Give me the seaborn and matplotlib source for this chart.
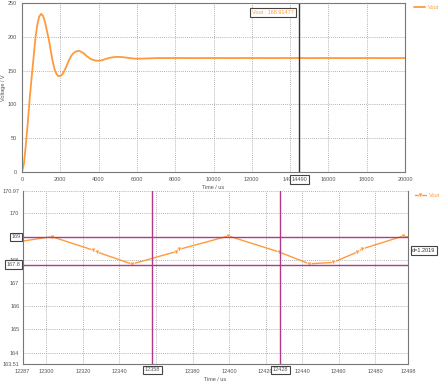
import matplotlib
matplotlib.use("Agg")
import matplotlib.pyplot as plt
import seaborn as sns
import pandas as pd

# ---- data: top panel (transient) ----
top_t = [0, 100, 200, 300, 400, 500, 600, 700, 800, 900, 1000, 1100, 1200, 1300, 1400,
         1500, 1600, 1700, 1800, 1900, 2000, 2100, 2200, 2300, 2400, 2500, 2600, 2700,
         2800, 2900, 3000, 3200, 3400, 3600, 3800, 4000, 4200, 4400, 4600, 4800, 5000,
         5300, 5600, 6000, 6500, 7000, 8000, 9000, 10000, 11000, 12000, 13000, 14000,
         15000, 16000, 17000, 18000, 19000, 20000]
top_v = [0, 12, 40, 72, 108, 139, 168, 198, 218, 230, 234, 231, 222, 209, 196,
         180, 164, 152, 145, 142, 142, 144, 149, 155, 162, 168, 173, 176,
         178, 179, 179, 176, 171, 167, 165, 164.5, 165.5, 167.5, 169, 170, 170.3,
         169.8, 168.5, 167.5, 168, 168.5, 168.6, 168.5, 168.6, 168.5, 168.6, 168.5, 168.6,
         168.5, 168.6, 168.5, 168.6, 168.5, 168.6]
top_xticks = [0, 2000, 4000, 6000, 8000, 10000, 12000, 14000, 16000, 18000, 20000]
top_yticks = [0, 50, 100, 150, 200, 250]
top_cursor_x = 14490
top_readout = "Vout : 168.91477"

# ---- data: bottom panel (zoomed ripple) ----
bot_t = [12287, 12303, 12325.6, 12327.7, 12346.8, 12370.7, 12372.5, 12399.7, 12427.4,
         12443.9, 12456.9, 12470.3, 12472.8, 12495.1, 12498]
bot_v = [168.81, 169.0, 168.42, 168.34, 167.82, 168.35, 168.45, 169.03, 168.34,
         167.83, 167.89, 168.34, 168.47, 169.02, 168.99]
bot_xticks = [12287, 12300, 12320, 12340, 12360, 12380, 12400, 12420, 12440, 12460, 12480, 12498]
bot_yticks = [163.51, 164, 165, 166, 167, 168, 169, 170, 170.97]
bot_hlines = [169, 167.8]
bot_hlabels = ["169", "167.8"]
bot_vlines = [12358, 12428]
bot_vlabels = ["12358", "12428"]
delta_label = "d=1.2019"

ORANGE = "#ff9a3c"
MAGENTA = "#b03a8a"
GRAY = "#555555"
FS = 4

sns.set_style("white")
plt.rcParams["font.family"] = ["Liberation Sans", "DejaVu Sans"]

fig = plt.figure(figsize=(4.41, 3.83), dpi=100)
ax1 = fig.add_axes([22 / 441, 1 - 172 / 383, 383 / 441, 169 / 383])
ax2 = fig.add_axes([22.7 / 441, 1 - 364 / 383, 385.3 / 441, 173 / 383])

box = dict(boxstyle="square,pad=0.3", fc="white", ec="#444444", lw=0.8)

# ---- top panel ----
df_top = pd.DataFrame({"Time / us": top_t, "Voltage / V": top_v})
sns.lineplot(data=df_top, x="Time / us", y="Voltage / V", ax=ax1, color=ORANGE,
             lw=1.3, label="Vout", legend=True)
ax1.set_xlim(0, 20000)
ax1.set_ylim(0, 250)
ax1.set_xticks(top_xticks)
ax1.set_yticks(top_yticks)
ax1.grid(True, ls=(0, (1, 1.5)), color="#9a9a9a", lw=0.6)
ax1.axvline(top_cursor_x, color="#333333", lw=1.0)
ax1.text(top_cursor_x - 280, 236, top_readout, color=ORANGE, fontsize=FS,
         ha="right", va="center", bbox=box)
ax1.text(top_cursor_x, -7.5, str(top_cursor_x), color=GRAY, fontsize=FS,
         ha="center", va="top", bbox=box, clip_on=False)
ax1.set_xlabel("Time / us", fontsize=FS, color=GRAY, labelpad=2)
ax1.set_ylabel("Voltage / V", fontsize=FS, color=GRAY)
ax1.yaxis.set_label_coords(-16 / 383, 0.5)
for s in ax1.spines.values():
    s.set_color("#777777")
    s.set_linewidth(0.8)
ax1.tick_params(labelsize=FS, colors=GRAY, length=1.5, width=0.5, pad=2)
ax1.legend(loc="upper left", bbox_to_anchor=(1 + 7 / 383, 1.0), frameon=False,
           fontsize=FS, labelcolor=ORANGE, handlelength=2.0, handletextpad=0.5,
           borderaxespad=0.0, borderpad=0.3)

# ---- bottom panel ----
df_bot = pd.DataFrame({"Time / us": bot_t, "Vout": bot_v})
sns.lineplot(data=df_bot, x="Time / us", y="Vout", ax=ax2, color=ORANGE, lw=1.0,
             marker="v", markersize=3.5, markeredgewidth=0.5,
             markevery=list(range(1, len(bot_t) - 1)), label="Vout")
ax2.set_xlim(bot_xticks[0], bot_xticks[-1])
ax2.set_ylim(bot_yticks[0], bot_yticks[-1])
ax2.set_xticks(bot_xticks)
ax2.set_xticklabels([str(v) for v in bot_xticks])
ax2.set_yticks(bot_yticks)
ax2.set_yticklabels([f"{v:g}" for v in bot_yticks])
ax2.grid(True, ls=(0, (1, 1.5)), color="#9a9a9a", lw=0.6)
for y, lab in zip(bot_hlines, bot_hlabels):
    ax2.axhline(y, color=MAGENTA, lw=1.0)
    ax2.annotate(lab, xy=(0, y), xycoords=("axes fraction", "data"),
                 xytext=(-1.5, 0), textcoords="offset points", fontsize=FS,
                 color=GRAY, ha="right", va="center", bbox=box, annotation_clip=False)
for x, lab in zip(bot_vlines, bot_vlabels):
    ax2.axvline(x, color=MAGENTA, lw=1.0)
    ax2.annotate(lab, xy=(x, 0), xycoords=("data", "axes fraction"),
                 xytext=(0, -2.5), textcoords="offset points", fontsize=FS,
                 color=GRAY, ha="center", va="top", bbox=box, annotation_clip=False)
ax2.annotate(delta_label, xy=(1, (bot_hlines[0] + bot_hlines[1]) / 2),
             xycoords=("axes fraction", "data"), xytext=(3, 0),
             textcoords="offset points", fontsize=FS, color="#333333",
             ha="left", va="center", bbox=box, annotation_clip=False)
ax2.set_xlabel("Time / us", fontsize=FS, color=GRAY, labelpad=2)
ax2.set_ylabel("")
ax2.spines["top"].set_visible(False)
for k in ["left", "bottom", "right"]:
    ax2.spines[k].set_color("#777777")
    ax2.spines[k].set_linewidth(0.8)
ax2.tick_params(labelsize=FS, colors=GRAY, length=1.5, width=0.5, pad=2)
ax2.tick_params(axis="y", length=1, pad=1.5)
ax2.legend(loc="upper left", bbox_to_anchor=(1 + 5 / 385, 1.0), frameon=False,
           fontsize=FS, labelcolor=ORANGE, handlelength=2.0, handletextpad=0.5,
           borderaxespad=0.0, borderpad=0.3)

fig.savefig("out.png", dpi=100)
